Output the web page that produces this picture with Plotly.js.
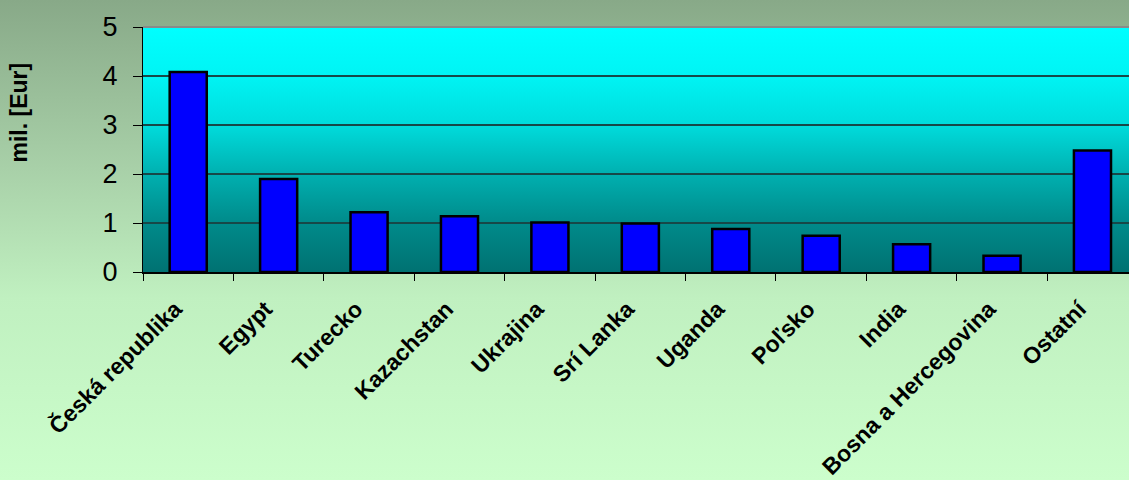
<!DOCTYPE html>
<html>
<head>
<meta charset="utf-8">
<script src="https://cdn.plot.ly/plotly-3.0.1.min.js"></script>
<style>
  html, body { margin: 0; padding: 0; }
  #chart {
    width: 1129px; height: 480px;
    background: linear-gradient(to bottom, #88a988 0%, #a8d0a8 35%, #c0f0c0 62%, #ccfecc 100%);
  }
</style>
</head>
<body>
<div id="chart"></div>
<script>
const categories = ["Česká republika", "Egypt", "Turecko", "Kazachstan", "Ukrajina", "Srí Lanka", "Uganda", "Poľsko", "India", "Bosna a Hercegovina", "Ostatní"];
const values = [4.08, 1.90, 1.22, 1.14, 1.01, 0.99, 0.88, 0.74, 0.565, 0.33, 2.48];
const yTitle = "mil. [Eur]";

const plotGradient = 'data:image/svg+xml;utf8,' + encodeURIComponent(
  '<svg xmlns="http://www.w3.org/2000/svg" width="100" height="100" preserveAspectRatio="none">' +
  '<defs><linearGradient id="g" x1="0" y1="0" x2="0" y2="1">' +
  '<stop offset="0" stop-color="#00ffff"/>' +
  '<stop offset="0.2" stop-color="#00f4f4"/>' +
  '<stop offset="0.4" stop-color="#00dcdc"/>' +
  '<stop offset="0.6" stop-color="#00b0b0"/>' +
  '<stop offset="0.8" stop-color="#008a8a"/>' +
  '<stop offset="1" stop-color="#007272"/>' +
  '</linearGradient></defs><rect width="100" height="100" fill="url(#g)"/></svg>');

const trace = {
  type: 'bar',
  x: categories,
  y: values,
  width: 0.41,
  marker: { color: '#0000ff', line: { color: '#000000', width: 2.5 } },
  hoverinfo: 'skip'
};

const layout = {
  width: 1129, height: 480,
  margin: { l: 143, r: 0, t: 27, b: 208, pad: 0 },
  paper_bgcolor: 'rgba(0,0,0,0)',
  plot_bgcolor: 'rgba(0,0,0,0)',
  showlegend: false,
  font: { family: 'Liberation Sans, Arial, sans-serif', color: '#000' },
  xaxis: {
    type: 'category',
    range: [-0.5, 10.404],
    tickson: 'boundaries',
    ticks: 'outside', ticklen: 7, tickcolor: '#000', tickwidth: 1,
    tickangle: -45,
    tickfont: { size: 23, weight: 'bold', color: '#000' },
    ticklabelstandoff: 13,
    ticklabelshift: -13,
    showline: true, linecolor: '#000', linewidth: 1.5,
    showgrid: false, zeroline: false, fixedrange: true
  },
  yaxis: {
    range: [0, 5], dtick: 1, tick0: 0,
    ticks: 'outside', ticklen: 9, tickcolor: '#000', tickwidth: 1,
    tickfont: { size: 27, color: '#000' },
    ticklabelstandoff: 10,
    showline: true, linecolor: '#000', linewidth: 1,
    showgrid: true, gridcolor: '#174848', gridwidth: 1.2,
    zeroline: false, fixedrange: true
  },
  images: [{
    source: plotGradient, xref: 'paper', yref: 'paper',
    x: 0, y: 1, sizex: 1, sizey: 1, sizing: 'stretch',
    xanchor: 'left', yanchor: 'top', layer: 'below'
  }],
  shapes: [{
    type: 'line', xref: 'paper', yref: 'paper',
    x0: 0, x1: 1, y0: 1, y1: 1,
    line: { color: '#8a8a8a', width: 2 }
  }],
  annotations: [{
    text: yTitle, xref: 'paper', yref: 'paper',
    x: -0.126, y: 0.65, xanchor: 'center', yanchor: 'middle',
    textangle: -90, showarrow: false,
    font: { size: 23, weight: 'bold', color: '#000' }
  }]
};

Plotly.newPlot('chart', [trace], layout, { staticPlot: true, displayModeBar: false });
</script>
</body>
</html>
